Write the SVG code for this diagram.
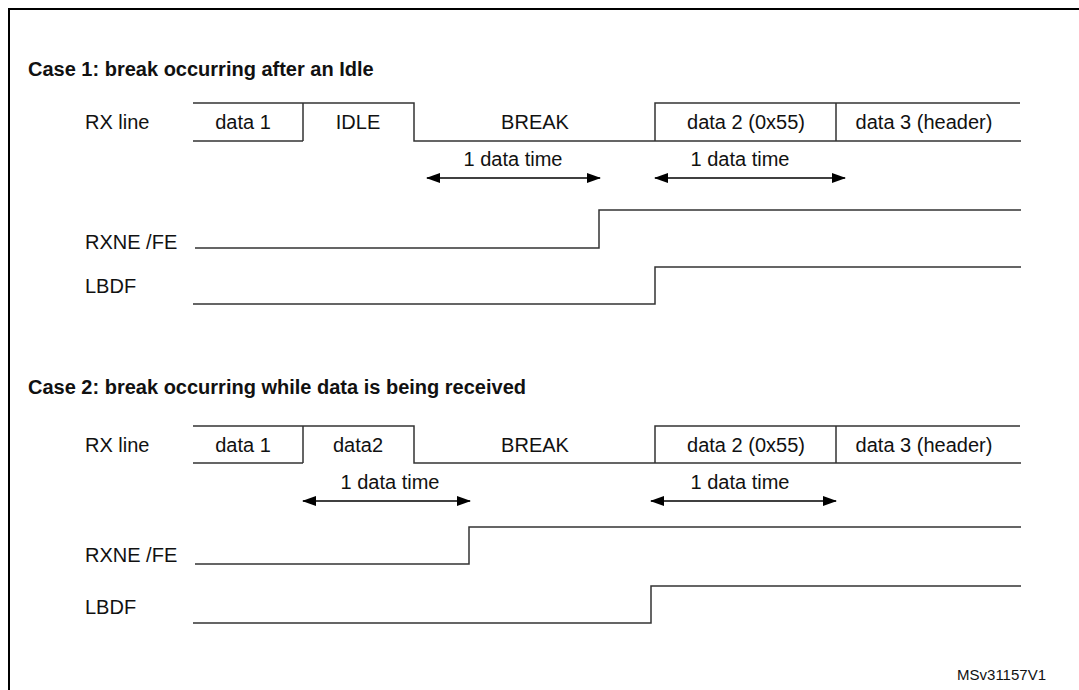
<svg xmlns="http://www.w3.org/2000/svg" width="1079" height="690" viewBox="0 0 1079 690">
<defs>
<marker id="ah" markerWidth="14" markerHeight="10" refX="13" refY="5" orient="auto-start-reverse" markerUnits="userSpaceOnUse"><path d="M0,0 L14,5 L0,10 Z" fill="#000"/></marker>
<style>
text{font-family:"Liberation Sans",Arial,sans-serif;font-size:20px;fill:#111}
.h{font-weight:bold}
.w{fill:none;stroke:#333;stroke-width:1.5}
.a{stroke:#000;stroke-width:1.5;marker-start:url(#ah);marker-end:url(#ah)}
.c{text-anchor:middle}
</style>
</defs>
<rect width="1079" height="690" fill="#fff"/>
<path d="M9,690 V9 H1079" fill="none" stroke="#000" stroke-width="2"/>
<g id="case1">
<text class="h" x="28" y="76">Case 1: break occurring after an Idle</text>
<text x="85" y="129">RX line</text>
<text x="85" y="249">RXNE /FE</text>
<text x="85" y="293">LBDF</text>
<path class="w" d="M193,103 H414 V141 H655 V103 H1020 M193,141 H303 M303,103 V141 M655,141 H1021 M836,103 V141"/>
<text class="c" x="243" y="129">data 1</text>
<text class="c" x="358" y="129">IDLE</text>
<text class="c" x="535" y="129">BREAK</text>
<text class="c" x="746" y="129">data 2 (0x55)</text>
<text class="c" x="924" y="129">data 3 (header)</text>
<text class="c" x="513" y="166">1 data time</text>
<text class="c" x="740" y="166">1 data time</text>
<path class="w" d="M195,248 H599 V210 H1021"/>
<path class="w" d="M193,304 H655 V267 H1021"/>
</g>
<g id="case2">
<text class="h" x="28" y="394">Case 2: break occurring while data is being received</text>
<text x="85" y="452">RX line</text>
<text x="85" y="562">RXNE /FE</text>
<text x="85" y="614">LBDF</text>
<path class="w" d="M193,426 H414 V463 H655 V426 H1020 M193,463 H303 M303,426 V463 M655,463 H1021 M836,426 V463"/>
<text class="c" x="243" y="452">data 1</text>
<text class="c" x="358" y="452">data2</text>
<text class="c" x="535" y="452">BREAK</text>
<text class="c" x="746" y="452">data 2 (0x55)</text>
<text class="c" x="924" y="452">data 3 (header)</text>
<text class="c" x="390" y="489">1 data time</text>
<text class="c" x="740" y="489">1 data time</text>
<path class="w" d="M195,564 H469 V527 H1021"/>
<path class="w" d="M193,623 H651 V586 H1021"/>
</g>
<g id="connectors">
<line class="a" x1="427" y1="178" x2="600" y2="178"/>
<line class="a" x1="655" y1="178" x2="845" y2="178"/>
<line class="a" x1="303" y1="501" x2="470" y2="501"/>
<line class="a" x1="651" y1="501" x2="836" y2="501"/>
</g>
<text x="1046" y="680" text-anchor="end" style="font-size:15px">MSv31157V1</text>
</svg>
